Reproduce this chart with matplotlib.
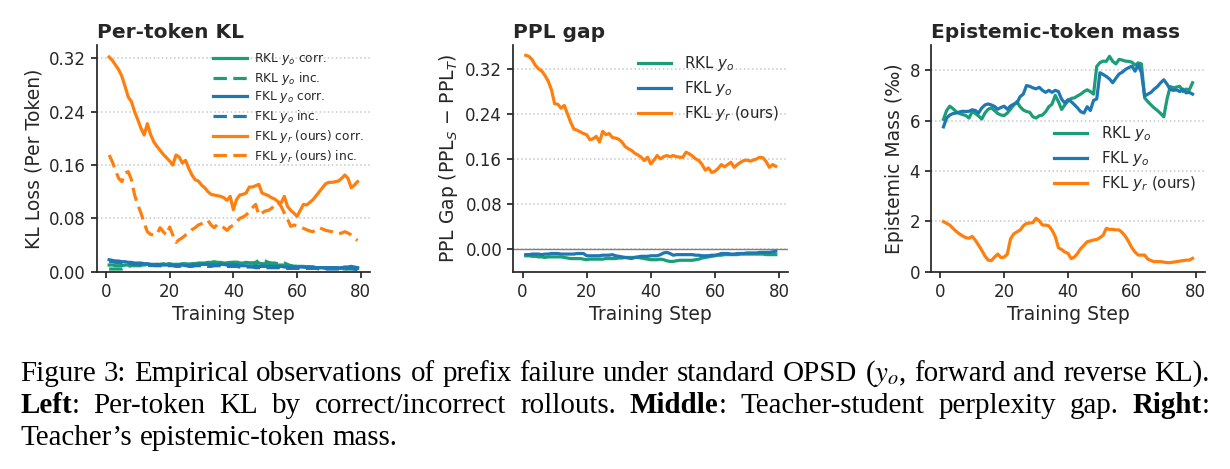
import numpy as np
import matplotlib
matplotlib.use("Agg")
import matplotlib.pyplot as plt

# ---------------- datos ----------------
steps = np.arange(1, 80)

# Per-token KL (izquierda)
kl_rkl_corr = [0.010, 0.010, 0.009, 0.009, 0.009, 0.010, 0.010, 0.010, 0.011, 0.011,
               0.010, 0.010, 0.011, 0.011, 0.010, 0.011, 0.011, 0.012, 0.011, 0.011,
               0.010, 0.011, 0.011, 0.012, 0.012, 0.011, 0.012, 0.012, 0.013, 0.013,
               0.013, 0.014, 0.014, 0.015, 0.014, 0.014, 0.013, 0.013, 0.014, 0.014,
               0.014, 0.013, 0.013, 0.014, 0.013, 0.013, 0.012, 0.013, 0.012, 0.012,
               0.012, 0.011, 0.011, 0.010, 0.010, 0.010, 0.009, 0.009, 0.008, 0.008,
               0.008, 0.008, 0.007, 0.007, 0.007, 0.006, 0.006, 0.006, 0.006, 0.006,
               0.006, 0.006, 0.005, 0.005, 0.005, 0.005, 0.005, 0.005, 0.005]
kl_rkl_inc = [0.004, 0.004, 0.004, 0.004, 0.004, 0.006, 0.008, 0.009, 0.009, 0.009,
              0.009, 0.009, 0.010, 0.009, 0.010, 0.010, 0.011, 0.010, 0.012, 0.012,
              0.011, 0.011, 0.010, 0.011, 0.012, 0.011, 0.011, 0.012, 0.012, 0.012,
              0.012, 0.013, 0.012, 0.013, 0.013, 0.014, 0.014, 0.013, 0.013, 0.014,
              0.014, 0.014, 0.014, 0.014, 0.013, 0.013, 0.014, 0.017, 0.017, 0.016,
              0.014, 0.013, 0.013, 0.012, 0.012, 0.013, 0.011, 0.009, 0.008, 0.008,
              0.008, 0.007, 0.007, 0.007, 0.006, 0.006, 0.006, 0.006, 0.005, 0.005,
              0.005, 0.005, 0.005, 0.004, 0.004, 0.004, 0.004, 0.004, 0.004]
kl_fkl_corr = [0.018, 0.017, 0.016, 0.016, 0.015, 0.015, 0.014, 0.014, 0.013, 0.013,
               0.013, 0.012, 0.012, 0.011, 0.011, 0.011, 0.010, 0.010, 0.010, 0.010,
               0.010, 0.009, 0.010, 0.010, 0.009, 0.009, 0.010, 0.010, 0.010, 0.011,
               0.011, 0.011, 0.010, 0.010, 0.010, 0.011, 0.011, 0.010, 0.010, 0.010,
               0.010, 0.009, 0.009, 0.009, 0.008, 0.008, 0.008, 0.008, 0.008, 0.008,
               0.008, 0.008, 0.008, 0.008, 0.008, 0.007, 0.007, 0.007, 0.007, 0.007,
               0.007, 0.007, 0.007, 0.007, 0.007, 0.006, 0.006, 0.006, 0.006, 0.006,
               0.006, 0.006, 0.006, 0.006, 0.007, 0.007, 0.008, 0.007, 0.006]
kl_fkl_inc = [0.015, 0.015, 0.014, 0.014, 0.013, 0.013, 0.012, 0.012, 0.011, 0.011,
              0.011, 0.010, 0.010, 0.010, 0.009, 0.009, 0.009, 0.008, 0.009, 0.009,
              0.009, 0.008, 0.008, 0.009, 0.009, 0.008, 0.008, 0.009, 0.009, 0.009,
              0.009, 0.008, 0.008, 0.009, 0.009, 0.009, 0.008, 0.008, 0.008, 0.008,
              0.008, 0.007, 0.007, 0.007, 0.007, 0.007, 0.006, 0.006, 0.006, 0.006,
              0.006, 0.006, 0.006, 0.006, 0.006, 0.005, 0.005, 0.005, 0.005, 0.005,
              0.005, 0.005, 0.005, 0.005, 0.005, 0.005, 0.004, 0.004, 0.004, 0.004,
              0.004, 0.004, 0.004, 0.004, 0.004, 0.005, 0.005, 0.004, 0.003]
kl_ours_corr = [0.322, 0.317, 0.310, 0.303, 0.293, 0.278, 0.262, 0.255, 0.240, 0.228,
                0.215, 0.205, 0.222, 0.206, 0.195, 0.188, 0.182, 0.176, 0.171, 0.166,
                0.160, 0.175, 0.172, 0.163, 0.167, 0.155, 0.145, 0.138, 0.136, 0.130,
                0.126, 0.120, 0.116, 0.115, 0.114, 0.113, 0.111, 0.107, 0.113, 0.093,
                0.108, 0.115, 0.116, 0.118, 0.127, 0.127, 0.129, 0.131, 0.118, 0.116,
                0.114, 0.111, 0.109, 0.105, 0.103, 0.113, 0.098, 0.092, 0.088, 0.083,
                0.092, 0.101, 0.100, 0.104, 0.108, 0.114, 0.120, 0.126, 0.132, 0.134,
                0.134, 0.135, 0.136, 0.140, 0.145, 0.140, 0.126, 0.130, 0.135]
kl_ours_inc = [0.175, 0.165, 0.152, 0.140, 0.135, 0.148, 0.150, 0.138, 0.115, 0.100,
               0.088, 0.073, 0.060, 0.056, 0.055, 0.056, 0.066, 0.060, 0.055, 0.067,
               0.055, 0.044, 0.048, 0.051, 0.055, 0.058, 0.063, 0.066, 0.070, 0.072,
               0.074, 0.077, 0.070, 0.066, 0.071, 0.069, 0.066, 0.062, 0.067, 0.070,
               0.075, 0.080, 0.082, 0.085, 0.090, 0.096, 0.101, 0.085, 0.088, 0.091,
               0.092, 0.095, 0.100, 0.104, 0.098, 0.088, 0.079, 0.068, 0.070, 0.069,
               0.067, 0.065, 0.063, 0.061, 0.060, 0.063, 0.066, 0.064, 0.062, 0.061,
               0.060, 0.058, 0.057, 0.058, 0.060, 0.058, 0.055, 0.050, 0.047]

# PPL gap (centro)
ppl_rkl = [-0.012, -0.012, -0.013, -0.013, -0.014, -0.014, -0.015, -0.014, -0.014, -0.014,
           -0.014, -0.014, -0.015, -0.016, -0.017, -0.017, -0.017, -0.017, -0.018, -0.019,
           -0.018, -0.018, -0.018, -0.018, -0.018, -0.017, -0.017, -0.017, -0.017, -0.016,
           -0.016, -0.015, -0.015, -0.015, -0.015, -0.015, -0.016, -0.017, -0.018, -0.019,
           -0.019, -0.019, -0.018, -0.019, -0.021, -0.022, -0.022, -0.021, -0.020, -0.020,
           -0.020, -0.020, -0.020, -0.019, -0.018, -0.016, -0.015, -0.014, -0.013, -0.012,
           -0.011, -0.011, -0.010, -0.010, -0.010, -0.010, -0.010, -0.009, -0.009, -0.009,
           -0.009, -0.009, -0.009, -0.009, -0.009, -0.010, -0.010, -0.010, -0.010]
ppl_fkl = [-0.010, -0.010, -0.009, -0.009, -0.009, -0.010, -0.009, -0.009, -0.008, -0.008,
           -0.008, -0.009, -0.009, -0.009, -0.009, -0.009, -0.008, -0.008, -0.008, -0.012,
           -0.012, -0.012, -0.012, -0.012, -0.011, -0.011, -0.011, -0.010, -0.012, -0.013,
           -0.014, -0.015, -0.016, -0.017, -0.015, -0.014, -0.013, -0.013, -0.013, -0.012,
           -0.012, -0.012, -0.010, -0.007, -0.006, -0.008, -0.011, -0.010, -0.010, -0.010,
           -0.010, -0.010, -0.010, -0.011, -0.011, -0.012, -0.012, -0.012, -0.011, -0.011,
           -0.010, -0.008, -0.008, -0.008, -0.009, -0.009, -0.008, -0.008, -0.008, -0.007,
           -0.007, -0.007, -0.007, -0.006, -0.006, -0.006, -0.006, -0.005, -0.004]
ppl_ours = [0.344, 0.342, 0.336, 0.326, 0.320, 0.316, 0.308, 0.298, 0.283, 0.258,
            0.257, 0.250, 0.255, 0.240, 0.225, 0.213, 0.211, 0.208, 0.205, 0.203,
            0.194, 0.196, 0.200, 0.190, 0.209, 0.203, 0.205, 0.198, 0.197, 0.195,
            0.190, 0.182, 0.178, 0.175, 0.170, 0.167, 0.163, 0.157, 0.163, 0.151,
            0.158, 0.166, 0.160, 0.164, 0.166, 0.164, 0.166, 0.164, 0.163, 0.163,
            0.172, 0.169, 0.165, 0.160, 0.157, 0.150, 0.140, 0.144, 0.136, 0.138,
            0.143, 0.150, 0.146, 0.150, 0.154, 0.145, 0.150, 0.154, 0.157, 0.158,
            0.156, 0.158, 0.160, 0.163, 0.162, 0.155, 0.145, 0.150, 0.147]

# Epistemic-token mass (derecha)
epi_rkl = [6.05, 6.40, 6.57, 6.47, 6.35, 6.28, 6.24, 6.20, 6.10, 6.35,
           6.28, 6.18, 6.06, 6.30, 6.45, 6.50, 6.40, 6.28, 6.22, 6.20,
           6.30, 6.45, 6.62, 6.75, 6.55, 6.42, 6.36, 6.33, 6.15, 6.10,
           6.19, 6.22, 6.35, 6.55, 6.65, 7.00, 6.75, 6.44, 6.62, 6.78,
           6.88, 6.90, 6.98, 7.05, 7.15, 7.22, 7.15, 7.05, 8.15, 8.30,
           8.36, 8.35, 8.55, 8.35, 8.25, 8.43, 8.40, 8.36, 8.35, 8.32,
           8.20, 8.29, 8.25, 6.90, 6.75, 6.62, 6.50, 6.40, 6.28, 6.15,
           6.85, 7.35, 7.30, 7.33, 7.36, 7.15, 7.25, 7.22, 7.50]
epi_fkl = [5.75, 6.10, 6.22, 6.28, 6.30, 6.34, 6.37, 6.36, 6.37, 6.43,
           6.40, 6.30, 6.50, 6.62, 6.66, 6.62, 6.56, 6.45, 6.52, 6.57,
           6.45, 6.58, 6.65, 6.70, 6.95, 7.05, 7.39, 7.36, 7.30, 7.26,
           7.32, 7.20, 7.12, 7.20, 7.12, 7.20, 7.15, 6.85, 6.70, 6.83,
           6.75, 6.63, 6.50, 6.35, 6.30, 6.55, 6.40, 6.80, 6.86, 7.90,
           7.83, 7.75, 7.65, 7.50, 7.68, 7.85, 7.92, 8.03, 8.10, 8.16,
           7.96, 8.22, 7.90, 6.97, 7.05, 7.12, 7.25, 7.35, 7.50, 7.62,
           7.45, 7.23, 7.20, 7.22, 7.15, 7.25, 7.10, 7.12, 7.05]
epi_ours = [1.99, 1.92, 1.85, 1.72, 1.60, 1.50, 1.42, 1.35, 1.33, 1.40,
            1.25, 1.05, 0.85, 0.62, 0.46, 0.44, 0.58, 0.70, 0.56, 0.58,
            0.70, 1.30, 1.50, 1.58, 1.65, 1.82, 1.92, 1.93, 1.95, 2.12,
            2.02, 1.85, 1.85, 1.82, 1.65, 1.40, 0.95, 0.88, 0.78, 0.73,
            0.52, 0.58, 0.73, 0.92, 1.05, 1.19, 1.22, 1.26, 1.28, 1.35,
            1.45, 1.72, 1.68, 1.68, 1.66, 1.66, 1.55, 1.40, 1.19, 0.95,
            0.78, 0.66, 0.66, 0.66, 0.50, 0.44, 0.40, 0.40, 0.40, 0.38,
            0.36, 0.36, 0.38, 0.40, 0.42, 0.44, 0.46, 0.46, 0.53]

kl_ticks = [0.00, 0.08, 0.16, 0.24, 0.32]
epi_ticks = [0, 2, 4, 6, 8]
x_ticks = [0, 20, 40, 60, 80]

# ---------------- estilo ----------------
GREEN = "#1b9e77"
BLUE = "#1f77b4"
ORANGE = "#ff7f0e"
INK = "#262626"
LW = 2.3
DASH = (4.2, 2.0)

plt.rcParams.update({
    "font.family": "DejaVu Sans",
    "text.color": INK,
    "axes.labelcolor": INK,
    "axes.edgecolor": INK,
    "xtick.color": INK,
    "ytick.color": INK,
    "axes.linewidth": 1.25,
    "xtick.major.width": 1.25,
    "ytick.major.width": 1.25,
    "xtick.major.size": 4.5,
    "ytick.major.size": 4.5,
    "xtick.labelsize": 12,
    "ytick.labelsize": 12,
    "axes.labelsize": 13.5,
})

W, H = 1230, 469
fig = plt.figure(figsize=(W / 100, H / 100), dpi=100)


def panel(x0, x1, y0=45, y1=271.7):
    ax = fig.add_axes([x0 / W, 1 - y1 / H, (x1 - x0) / W, (y1 - y0) / H])
    for s in ["top", "right"]:
        ax.spines[s].set_visible(False)
    ax.grid(axis="y", linestyle=":", color="#c8c8c8", linewidth=1.1)
    ax.set_axisbelow(True)
    ax.set_xticks(x_ticks)
    ax.set_xlabel("Training Step", labelpad=3)
    return ax


# Panel izquierdo
ax1 = panel(96.7, 370)
ax1.plot(steps, kl_rkl_corr, color=GREEN, lw=LW, label=r"RKL $y_o$ corr.")
ax1.plot(steps, kl_rkl_inc, color=GREEN, lw=LW, ls="--", dashes=DASH, label=r"RKL $y_o$ inc.")
ax1.plot(steps, kl_fkl_corr, color=BLUE, lw=LW, label=r"FKL $y_o$ corr.")
ax1.plot(steps, kl_fkl_inc, color=BLUE, lw=LW, ls="--", dashes=DASH, label=r"FKL $y_o$ inc.")
ax1.plot(steps, kl_ours_corr, color=ORANGE, lw=LW, label=r"FKL $y_r$ (ours) corr.")
ax1.plot(steps, kl_ours_inc, color=ORANGE, lw=LW, ls="--", dashes=DASH,
         label=r"FKL $y_r$ (ours) inc.")
ax1.set_ylim(0, 0.34)
ax1.set_yticks(kl_ticks)
ax1.set_yticklabels([f"{v:.2f}" for v in kl_ticks])
ax1.set_ylabel("KL Loss (Per Token)")
ax1.set_title("Per-token KL", loc="left", fontsize=14.5, fontweight="bold", pad=5)
ax1.legend(loc="upper right", fontsize=8.8, frameon=False, handlelength=2.8,
           labelspacing=0.22, borderaxespad=0.1, handletextpad=0.6)

# Panel central
ax2 = panel(513.3, 788.3)
ax2.axhline(0, color="#808080", lw=1.0, zorder=1)
ax2.plot(steps, ppl_rkl, color=GREEN, lw=LW, label=r"RKL $y_o$")
ax2.plot(steps, ppl_fkl, color=BLUE, lw=LW, label=r"FKL $y_o$")
ax2.plot(steps, ppl_ours, color=ORANGE, lw=LW, label=r"FKL $y_r$ (ours)")
ax2.set_yticks(kl_ticks)
ax2.set_yticklabels([f"{v:.2f}" for v in kl_ticks])
ax2.set_ylabel(r"PPL Gap (PPL$_S$ $-$ PPL$_T$)")
ax2.set_title("PPL gap", loc="left", fontsize=14.5, fontweight="bold", pad=5)
ax2.legend(loc="upper right", fontsize=10.8, frameon=False, handlelength=2.2,
           labelspacing=0.4, borderaxespad=0.2, handletextpad=0.9)

# Panel derecho
ax3 = panel(931, 1205)
ax3.plot(steps, epi_rkl, color=GREEN, lw=LW, label=r"RKL $y_o$")
ax3.plot(steps, epi_fkl, color=BLUE, lw=LW, label=r"FKL $y_o$")
ax3.plot(steps, epi_ours, color=ORANGE, lw=LW, label=r"FKL $y_r$ (ours)")
ax3.set_ylim(0, 9)
ax3.set_yticks(epi_ticks)
ax3.set_ylabel("Epistemic Mass (‰)")
ax3.set_title("Epistemic-token mass", loc="left", fontsize=14.5, fontweight="bold", pad=5)
ax3.legend(loc="center right", fontsize=10.8, frameon=False, handlelength=2.2,
           labelspacing=0.4, borderaxespad=0.2, handletextpad=0.9)

# ---------------- leyenda de la figura (caption) ----------------
caption = [
    [[("Figure", 0)], [("3:", 0)], [("Empirical", 0)], [("observations", 0)], [("of", 0)],
     [("prefix", 0)], [("failure", 0)], [("under", 0)], [("standard", 0)], [("OPSD", 0)],
     [("($y_o$,", 0)], [("forward", 0)], [("and", 0)], [("reverse", 0)], [("KL).", 0)]],
    [[("Left", 1), (":", 0)], [("Per-token", 0)], [("KL", 0)], [("by", 0)],
     [("correct/incorrect", 0)], [("rollouts.", 0)], [("Middle", 1), (":", 0)],
     [("Teacher-student", 0)], [("perplexity", 0)], [("gap.", 0)], [("Right", 1), (":", 0)]],
    [[("Teacher’s", 0)], [("epistemic-token", 0)], [("mass.", 0)]],
]
baselines = [381, 413, 445]
X0, X1 = 20, 1210
renderer = fig.canvas.get_renderer()


def make_words(words, y, size):
    boxes = []
    for word in words:
        parts = []
        for txt, bold in word:
            t = fig.text(0, 1 - y / H, txt, fontsize=size, family="Liberation Serif",
                         fontweight="bold" if bold else "normal", va="baseline",
                         math_fontfamily="stix", color="black")
            parts.append((t, t.get_window_extent(renderer=renderer).width))
        boxes.append(parts)
    return boxes


# tamaño de letra ajustado para que las dos primeras lineas llenen el ancho
probe = 20.0
natural = []
for line in caption[:2]:
    bx = make_words(line, -100, probe)
    w = sum(wd for parts in bx for _, wd in parts)
    natural.append(w + (len(bx) - 1) * 0.27 * probe * 100 / 72)
    for parts in bx:
        for t, _ in parts:
            t.remove()
cap_size = probe * (X1 - X0) / max(natural)


def put_line(words, y, justify=True):
    boxes = make_words(words, y, cap_size)
    widths = [sum(w for _, w in parts) for parts in boxes]
    if justify:
        gap = (X1 - X0 - sum(widths)) / (len(boxes) - 1)
    else:
        gap = 0.27 * cap_size * 100 / 72
    x = X0
    for parts, wd in zip(boxes, widths):
        xx = x
        for t, w in parts:
            t.set_x(xx / W)
            xx += w
        x += wd + gap


for i, line in enumerate(caption):
    put_line(line, baselines[i], justify=(i < 2))

fig.savefig("out.png", dpi=100)
